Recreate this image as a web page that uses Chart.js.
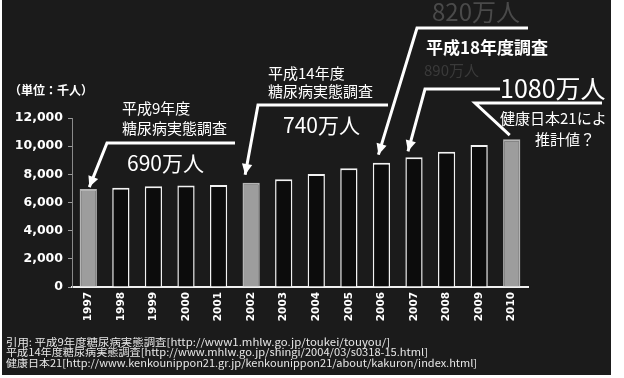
<!DOCTYPE html>
<html>
<head>
<meta charset="utf-8">
<script src="https://cdn.jsdelivr.net/npm/chart.js@4"></script>
<style>
  html, body { margin: 0; padding: 0; background: #fff; }
  #wrap { width: 624px; height: 378px; }
</style>
</head>
<body>
<div id="wrap"><canvas id="wykres" width="624" height="378"></canvas></div>
<script>
// lata i liczba chorych (tys. osob)
var lata = ['1997', '1998', '1999', '2000', '2001', '2002', '2003', '2004', '2005', '2006', '2007', '2008', '2009', '2010'];
var chorzy = [6950, 7050, 7150, 7200, 7250, 7400, 7650, 8030, 8430, 8830, 9210, 9610, 10080, 10500];
var badania = ['1997', '2002', '2010']; // slupki wyszarzone
var yTicks = [0, 2000, 4000, 6000, 8000, 10000, 12000];

var jp = '"Noto Sans CJK JP", "Noto Sans", sans-serif';

function strzalka(ctx, pts) {
  ctx.beginPath();
  ctx.moveTo(pts[0][0], pts[0][1]);
  for (var i = 1; i < pts.length; i++) ctx.lineTo(pts[i][0], pts[i][1]);
  ctx.stroke();
  var a = pts[pts.length - 2], b = pts[pts.length - 1];
  var kat = Math.atan2(b[1] - a[1], b[0] - a[0]);
  ctx.beginPath();
  ctx.moveTo(b[0], b[1]);
  ctx.lineTo(b[0] - 12 * Math.cos(kat - 0.45), b[1] - 12 * Math.sin(kat - 0.45));
  ctx.lineTo(b[0] - 12 * Math.cos(kat + 0.45), b[1] - 12 * Math.sin(kat + 0.45));
  ctx.closePath();
  ctx.fill();
}

function tekst(ctx, t, x, y, font, kolor, szer) {
  ctx.font = font;
  ctx.fillStyle = kolor;
  if (szer) {
    var w = ctx.measureText(t).width;
    ctx.save();
    ctx.translate(x, y);
    ctx.scale(szer / w, 1);
    ctx.fillText(t, 0, 0);
    ctx.restore();
  } else {
    ctx.fillText(t, x, y);
  }
}

var tlo = {
  id: 'tlo',
  beforeDraw: function (chart) {
    var ctx = chart.ctx;
    ctx.save();
    ctx.fillStyle = '#1b1b1b';
    ctx.fillRect(0, 0, chart.width, chart.height);
    ctx.restore();
  }
};

var opisy = {
  id: 'opisy',
  afterDraw: function (chart) {
    var ctx = chart.ctx;
    var xs = chart.scales.x, ys = chart.scales.y;
    function szczyt(i) { return [xs.getPixelForValue(i), ys.getPixelForValue(chorzy[i])]; }
    ctx.save();
    ctx.textBaseline = 'middle';
    ctx.textAlign = 'left';

    // teksty w tle (wyblakle)
    tekst(ctx, '820万人', 432, 12, '24px ' + jp, '#4a4a4a');
    tekst(ctx, '890万人', 424, 70, '15px ' + jp, '#3a3a3a');

    tekst(ctx, '（単位：千人）', 9, 90, 'bold 12px ' + jp, '#fff');

    tekst(ctx, '平成9年度', 122, 108, '15px ' + jp, '#fff');
    tekst(ctx, '糖尿病実態調査', 122, 128, '15px ' + jp, '#fff');
    tekst(ctx, '690万人', 127, 163, '21px ' + jp, '#fff');

    tekst(ctx, '平成14年度', 268, 73, '15px ' + jp, '#fff');
    tekst(ctx, '糖尿病実態調査', 268, 91, '15px ' + jp, '#fff');
    tekst(ctx, '740万人', 283, 125, '21px ' + jp, '#fff');

    tekst(ctx, '平成18年度調査', 426, 48, 'bold 17px ' + jp, '#fff');

    tekst(ctx, '1080万人', 500, 88, '25px ' + jp, '#fff');
    tekst(ctx, '健康日本21によ', 500, 118, '15px ' + jp, '#fff');
    tekst(ctx, '推計値？', 535, 139, '15px ' + jp, '#fff');

    // strzalki
    ctx.strokeStyle = '#fff';
    ctx.fillStyle = '#fff';
    ctx.lineWidth = 3;
    ctx.lineJoin = 'miter';
    var p;
    p = szczyt(0);
    strzalka(ctx, [[235, 143], [107, 143], [p[0] + 1, p[1] - 2]]);
    p = szczyt(5);
    strzalka(ctx, [[388, 105], [258, 105], [p[0] - 6, p[1] - 8]]);
    p = szczyt(9);
    strzalka(ctx, [[528, 28], [417, 28], [p[0] - 3, p[1] - 8]]);
    p = szczyt(10);
    strzalka(ctx, [[500, 89], [425, 89], [p[0] - 6, p[1] - 6]]);
    ctx.beginPath();
    p = szczyt(13);
    ctx.moveTo(602, 103);
    ctx.lineTo(475, 103);
    ctx.lineTo(p[0] - 2, p[1] - 4);
    ctx.stroke();

    // zrodla
    tekst(ctx, '引用: 平成9年度糖尿病実態調査[http://www1.mhlw.go.jp/toukei/touyou/]', 6, 342, '10px ' + jp, '#e8e8e8', 384);
    tekst(ctx, '平成14年度糖尿病実態調査[http://www.mhlw.go.jp/shingi/2004/03/s0318-15.html]', 6, 352, '10px ' + jp, '#e8e8e8', 422);
    tekst(ctx, '健康日本21[http://www.kenkounippon21.gr.jp/kenkounippon21/about/kakuron/index.html]', 6, 363, '10px ' + jp, '#e8e8e8', 471);

    // biale brzegi skanu
    ctx.fillStyle = '#fff';
    ctx.fillRect(611, 0, 13, 378);
    ctx.fillRect(0, 375, 624, 3);
    ctx.fillRect(0, 0, 2, 378);
    ctx.restore();
  }
};

var kolory = lata.map(function (r) { return badania.indexOf(r) >= 0 ? '#9d9d9d' : '#0c0c0c'; });
var ramki = lata.map(function (r) { return badania.indexOf(r) >= 0 ? '#b5b5b5' : '#f2f2f2'; });

new Chart(document.getElementById('wykres'), {
  type: 'bar',
  data: {
    labels: lata,
    datasets: [{
      data: chorzy,
      backgroundColor: kolory,
      borderColor: ramki,
      borderWidth: { top: 2, left: 1.5, right: 1.5, bottom: 0 },
      borderSkipped: 'start',
      barPercentage: 0.53,
      categoryPercentage: 1
    }]
  },
  options: {
    responsive: false,
    devicePixelRatio: 1,
    animation: false,
    layout: { padding: { top: 118, right: 96, left: 0, bottom: 0 } },
    plugins: { legend: { display: false }, tooltip: { enabled: false } },
    scales: {
      x: {
        afterFit: function (s) { s.height = 91; },
        grid: { display: true, drawOnChartArea: false, drawTicks: false, color: 'rgba(0,0,0,0)' },
        border: { display: true, color: '#f0f0f0', width: 2 },
        ticks: {
          color: '#fff',
          font: { family: 'DejaVu Sans', size: 10.5, weight: 'bold' },
          minRotation: 90,
          maxRotation: 90,
          padding: 5,
          autoSkip: false
        }
      },
      y: {
        min: 0,
        max: 12000,
        afterFit: function (s) { s.width = 72; },
        afterBuildTicks: function (s) { s.ticks = yTicks.map(function (v) { return { value: v }; }); },
        grid: { drawOnChartArea: false, tickLength: 4, color: '#9a9a9a' },
        border: { display: true, color: '#8a8a8a', width: 1, dash: [1, 2] },
        ticks: {
          color: '#fff',
          font: { family: 'DejaVu Sans', size: 12.5, weight: 'bold' },
          padding: 5,
          callback: function (v) { return v.toLocaleString('en-US'); }
        }
      }
    }
  },
  plugins: [tlo, opisy]
});
</script>
</body>
</html>
